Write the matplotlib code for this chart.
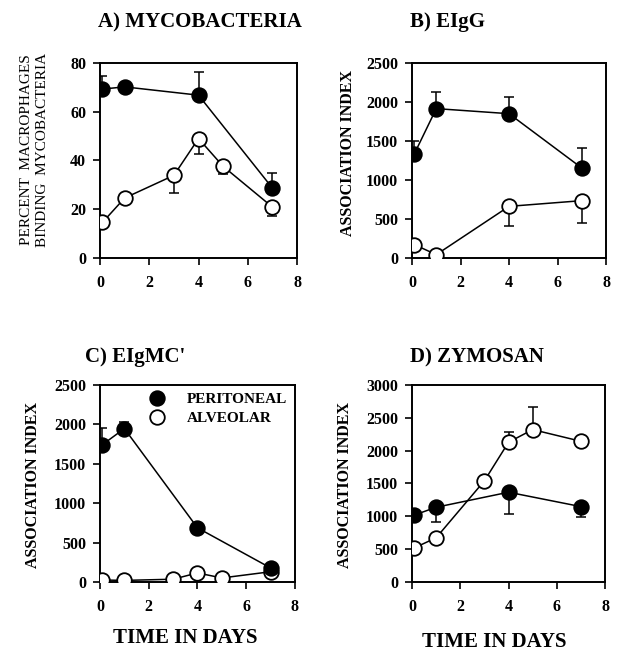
import matplotlib.pyplot as plt

plt.rcParams['font.family'] = ['Liberation Serif', 'DejaVu Serif']
plt.rcParams['font.weight'] = 'bold'

# A) mycobacteria, percent binding
days_a_per = [0.1, 1, 4, 7]
a_per = [69.3, 70.2, 66.8, 28.7]
a_per_err = [5.5, 0, 9.4, 6.2]
days_a_alv = [0.1, 1, 3, 4, 5, 7]
a_alv = [14.6, 24.6, 33.9, 49.0, 37.6, 20.9]
a_alv_err = [0, 0, 7.2, 6.2, 3.0, 3.8]

# B) EIgG
days_b_per = [0.1, 1, 4, 7]
b_per = [1338, 1915, 1850, 1154]
b_per_err = [166, 209, 214, 256]
days_b_alv = [0.1, 1, 4, 7]
b_alv = [171, 43, 662, 735]
b_alv_err = [0, 0, 256, 286]

# C) EIgMC'
days_c_per = [0.1, 1, 4, 7]
c_per = [1743, 1947, 687, 178]
c_per_err = [217, 80, 0, 0]
days_c_alv = [0.1, 1, 3, 4, 5, 7]
c_alv = [25, 20, 35, 115, 51, 130]
c_alv_err = [0, 0, 0, 0, 0, 0]

# D) zymosan
days_d_per = [0.1, 1, 4, 7]
d_per = [1020, 1138, 1367, 1148]
d_per_err = [0, 220, 331, 153]
days_d_alv = [0.1, 1, 3, 4, 5, 7]
d_alv = [520, 673, 1541, 2128, 2321, 2143]
d_alv_err = [0, 0, 0, 153, 342, 0]

x_ticks = [0, 2, 4, 6, 8]


def draw_series(ax, x, y, err, filled, err_up, label=None):
    zeros = [0] * len(err)
    yerr = [zeros, err] if err_up else [err, zeros]
    ax.errorbar(x, y, yerr=yerr, fmt='none', ecolor='black', elinewidth=1.1,
                capsize=3.6, capthick=1.1, zorder=2)
    ax.plot(x, y, color='black', linewidth=1.1, marker='o', markersize=10.5,
            markerfacecolor='black' if filled else 'white',
            markeredgecolor='black', markeredgewidth=1.3, zorder=3, label=label)


def style_axes(ax, ylim, yticks):
    ax.set_xlim(0, 8)
    ax.set_ylim(*ylim)
    ax.set_xticks(x_ticks)
    ax.set_yticks(yticks)
    for s in ax.spines.values():
        s.set_linewidth(1.4)
    ax.tick_params(direction='out', length=5, width=1.2, labelsize=11.5,
                   top=False, right=False)
    ax.tick_params(axis='x', pad=7)
    ax.tick_params(axis='y', pad=5)


fig = plt.figure(figsize=(6.18, 6.52), dpi=100)

ax_a = fig.add_axes([0.1618, 0.6043, 0.3188, 0.2991])
ax_b = fig.add_axes([0.6667, 0.6043, 0.3139, 0.2991])
ax_c = fig.add_axes([0.1618, 0.1074, 0.3155, 0.3021])
ax_d = fig.add_axes([0.6667, 0.1074, 0.3123, 0.3021])

draw_series(ax_a, days_a_alv, a_alv, a_alv_err, False, False)
draw_series(ax_a, days_a_per, a_per, a_per_err, True, True)
style_axes(ax_a, (0, 80), [0, 20, 40, 60, 80])

draw_series(ax_b, days_b_alv, b_alv, b_alv_err, False, False)
draw_series(ax_b, days_b_per, b_per, b_per_err, True, True)
style_axes(ax_b, (0, 2500), [0, 500, 1000, 1500, 2000, 2500])

draw_series(ax_c, days_c_alv, c_alv, c_alv_err, False, True, label='ALVEOLAR')
draw_series(ax_c, days_c_per, c_per, c_per_err, True, True, label='PERITONEAL')
style_axes(ax_c, (0, 2500), [0, 500, 1000, 1500, 2000, 2500])
handles, labels = ax_c.get_legend_handles_labels()
ax_c.legend(handles[::-1], labels[::-1], loc='upper right', frameon=False,
            fontsize=11, handlelength=0, handletextpad=2.0, borderaxespad=0.3,
            labelspacing=0.35, borderpad=0.2)

draw_series(ax_d, days_d_alv, d_alv, d_alv_err, False, True)
draw_series(ax_d, days_d_per, d_per, d_per_err, True, False)
style_axes(ax_d, (0, 3000), [0, 500, 1000, 1500, 2000, 2500, 3000])

# panel titles
fig.text(98 / 618, 1 - 22 / 652, 'A) MYCOBACTERIA', fontsize=15, ha='left', va='center')
fig.text(410 / 618, 1 - 22 / 652, 'B) EIgG', fontsize=15, ha='left', va='center')
fig.text(85 / 618, 1 - 357 / 652, "C) EIgMC'", fontsize=15, ha='left', va='center')
fig.text(410 / 618, 1 - 357 / 652, 'D) ZYMOSAN', fontsize=15, ha='left', va='center')

# y labels
fig.text(27 / 618, 1 - 150 / 652, 'PERCENT  MACROPHAGES', fontsize=11, fontweight='normal',
         rotation=90, ha='center', va='center')
fig.text(43 / 618, 1 - 150 / 652, 'BINDING  MYCOBACTERIA', fontsize=11, fontweight='normal',
         rotation=90, ha='center', va='center')
fig.text(348 / 618, 1 - 153 / 652, 'ASSOCIATION INDEX', fontsize=11.5,
         rotation=90, ha='center', va='center')
fig.text(33 / 618, 1 - 485 / 652, 'ASSOCIATION INDEX', fontsize=11.5,
         rotation=90, ha='center', va='center')
fig.text(345 / 618, 1 - 485 / 652, 'ASSOCIATION INDEX', fontsize=11.5,
         rotation=90, ha='center', va='center')

# x labels
fig.text(185 / 618, 1 - 638 / 652, 'TIME IN DAYS', fontsize=15, ha='center', va='center')
fig.text(494 / 618, 1 - 642 / 652, 'TIME IN DAYS', fontsize=15, ha='center', va='center')

fig.savefig('out.png', dpi=100, facecolor='white')
